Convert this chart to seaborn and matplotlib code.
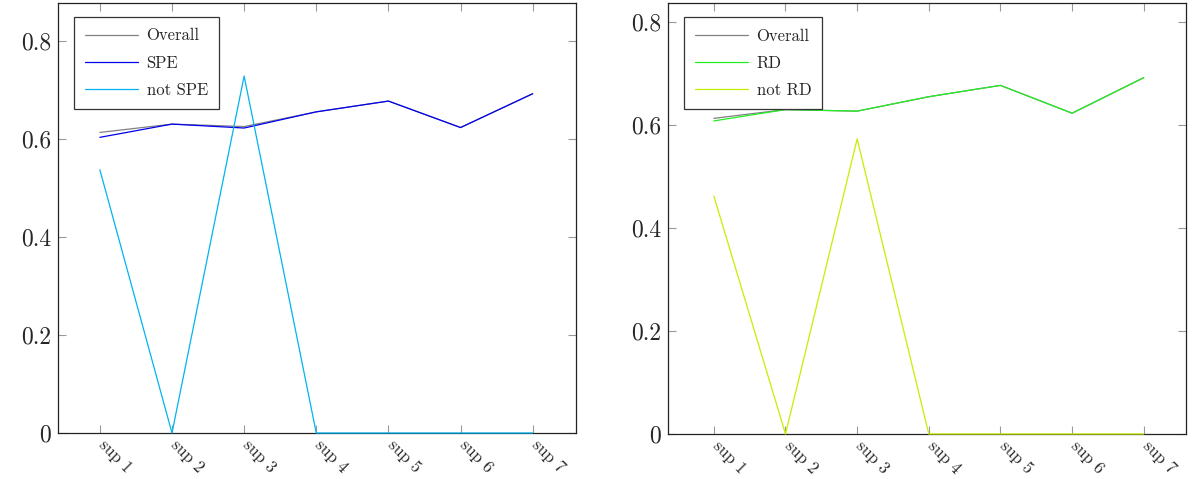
import numpy as np
import pandas as pd
import matplotlib
matplotlib.use("Agg")
import matplotlib.pyplot as plt
import matplotlib.transforms as mtransforms
import seaborn as sns

categories = ["sup 1", "sup 2", "sup 3", "sup 4", "sup 5", "sup 6", "sup 7"]

overall_left = [0.613, 0.630, 0.625, 0.655, 0.677, 0.623, 0.692]
spe = [0.603, 0.630, 0.622, 0.655, 0.677, 0.623, 0.692]
not_spe = [0.537, 0.0, 0.728, 0.0, 0.0, 0.0, 0.0]

overall_right = [0.613, 0.630, 0.627, 0.655, 0.677, 0.623, 0.692]
rd = [0.608, 0.630, 0.627, 0.655, 0.677, 0.623, 0.692]
not_rd = [0.462, 0.0, 0.573, 0.0, 0.0, 0.0, 0.0]

sns.set_style("ticks")
plt.rcParams["font.family"] = ["cmr10", "DejaVu Serif"]
plt.rcParams["axes.formatter.use_mathtext"] = True
plt.rcParams["mathtext.fontset"] = "cm"

fig = plt.figure(figsize=(11.93, 4.79), dpi=100)
W, H = 1193, 479

def make_ax(x0, x1, ytop, ybot):
    return fig.add_axes([x0 / W, (H - ybot) / H, (x1 - x0) / W, (ybot - ytop) / H])

ax1 = make_ax(58, 576, 3, 433)
ax2 = make_ax(668, 1186, 3, 434)

idx = np.arange(len(categories))

def panel(ax, series, ymax, xlo, xhi):
    for vals, col, lab in series:
        df = pd.DataFrame({"x": idx, "y": vals})
        sns.lineplot(data=df, x="x", y="y", ax=ax, color=col, label=lab,
                     linewidth=0.9, zorder=3, clip_on=False)
    ax.set_xlim(xlo, xhi)
    ax.set_ylim(0, ymax)
    ax.set_xticks(idx)
    ax.set_xticklabels(categories, rotation=-45, ha="left", va="top",
                       rotation_mode="anchor", fontsize=12)
    ax.set_yticks([0, 0.2, 0.4, 0.6, 0.8])
    ax.set_yticklabels(["0", "0.2", "0.4", "0.6", "0.8"], fontsize=17)
    ax.set_xlabel("")
    ax.set_ylabel("")
    ax.tick_params(direction="in", length=6, width=0.8, color="#999999",
                   top=True, right=True, pad=5)
    ax.tick_params(axis="x", pad=3)
    for s in ax.spines.values():
        s.set_color("#222222")
        s.set_linewidth(0.9)
        s.set_zorder(2)
    leg = ax.legend(loc="upper left", fontsize=12, frameon=True, fancybox=False,
                    edgecolor="#333333", framealpha=1, handlelength=3.2,
                    borderpad=0.65, labelspacing=0.72, handletextpad=0.5,
                    bbox_to_anchor=(0.015, 0.986))
    leg.get_frame().set_linewidth(0.9)
    leg.set_zorder(5)

panel(ax1, [(overall_left, "#808080", "Overall"),
            (spe, "#0000ee", "SPE"),
            (not_spe, "#00b4f0", "not SPE")], 0.877, -0.58, 6.6)
panel(ax2, [(overall_right, "#808080", "Overall"),
            (rd, "#22ee22", "RD"),
            (not_rd, "#c4f000", "not RD")], 0.837, -0.64, 6.59)

offset = mtransforms.ScaledTranslation(7 / 100, 0, fig.dpi_scale_trans)
for ax in (ax1, ax2):
    for lbl in ax.get_xticklabels():
        lbl.set_transform(lbl.get_transform() + offset)

fig.savefig("out.png", dpi=100)
